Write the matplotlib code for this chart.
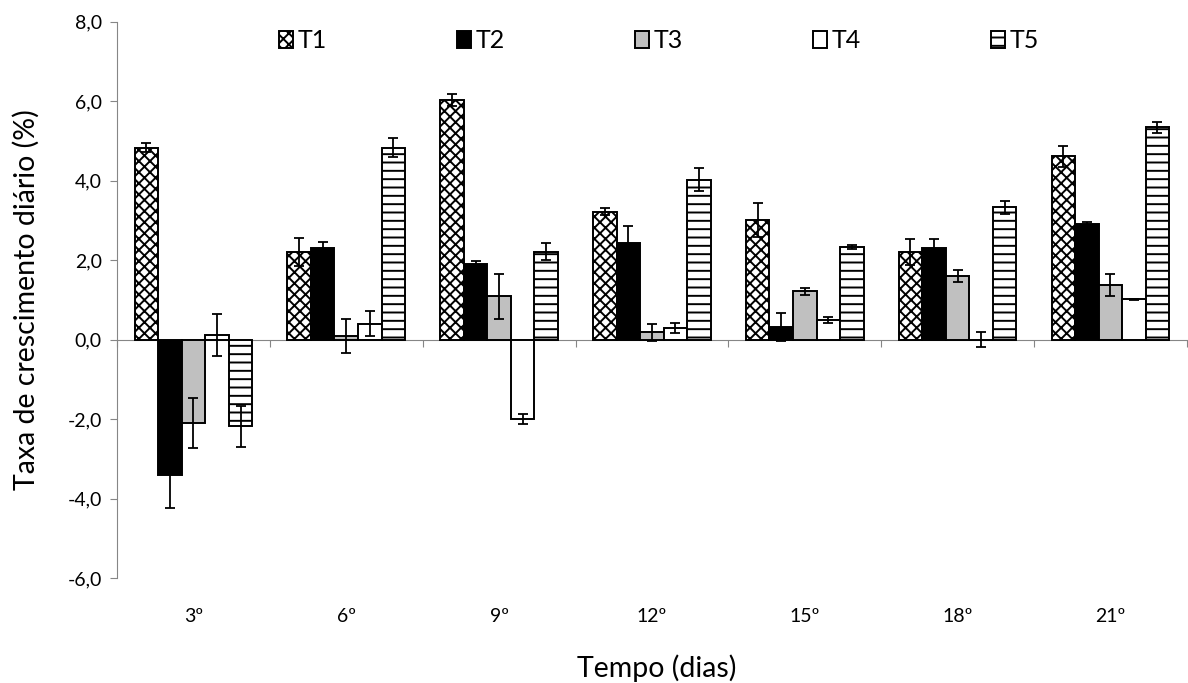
import numpy as np
import matplotlib
matplotlib.use('Agg')
import matplotlib.pyplot as plt
from matplotlib.ticker import FuncFormatter

plt.rcParams['font.family'] = ['Lato', 'DejaVu Sans']
plt.rcParams['hatch.linewidth'] = 1.4
plt.rcParams['hatch.color'] = 'black'

# Data
dias = ['3º', '6º', '9º', '12º', '15º', '18º', '21º']
tratamentos = ['T1', 'T2', 'T3', 'T4', 'T5']

t1 = [4.83, 2.21, 6.03, 3.22, 3.02, 2.21, 4.61]
t2 = [-3.40, 2.30, 1.91, 2.42, 0.32, 2.30, 2.90]
t3 = [-2.10, 0.10, 1.09, 0.18, 1.22, 1.60, 1.38]
t4 = [0.11, 0.40, -2.00, 0.30, 0.49, 0.00, 1.01]
t5 = [-2.18, 4.83, 2.21, 4.02, 2.33, 3.33, 5.34]

e1 = [0.12, 0.35, 0.14, 0.08, 0.43, 0.33, 0.26]
e2 = [0.85, 0.16, 0.08, 0.43, 0.36, 0.24, 0.07]
e3 = [0.62, 0.43, 0.56, 0.22, 0.09, 0.14, 0.27]
e4 = [0.53, 0.32, 0.12, 0.13, 0.08, 0.18, 0.02]
e5 = [0.52, 0.24, 0.21, 0.29, 0.05, 0.17, 0.13]

valores = [t1, t2, t3, t4, t5]
erros = [e1, e2, e3, e4, e5]
cores = ['white', 'black', '#c0c0c0', 'white', 'white']
hatches = ['xxx', None, None, None, '--']

fig = plt.figure(figsize=(11.88, 6.83), dpi=100)
ax = fig.add_axes([0.0985, 0.1537, 0.9005, 0.8145])

x = np.arange(len(dias))
w = 0.154
for i in range(5):
    pos = x + (i - 2) * w
    ax.bar(pos, valores[i], w, color=cores[i], edgecolor='black',
           linewidth=1.4, hatch=hatches[i], label=tratamentos[i], zorder=2)
    ax.errorbar(pos, valores[i], yerr=erros[i], fmt='none', ecolor='black',
                elinewidth=1.3, capsize=3.6, capthick=1.3, zorder=3)

ax.set_xlim(-0.5, len(dias) - 0.5)
ax.set_ylim(-6, 8)
ax.set_yticks(np.arange(-6, 9, 2))
ax.yaxis.set_major_formatter(FuncFormatter(lambda v, p: ('%.1f' % v).replace('.', ',')))

gray = '#868686'
for s in ['top', 'right']:
    ax.spines[s].set_visible(False)
ax.spines['left'].set_color(gray)
ax.spines['bottom'].set_position(('data', 0))
ax.spines['bottom'].set_color(gray)
ax.spines['bottom'].set_zorder(1)

ax.set_xticks(np.arange(-0.5, len(dias), 1))
ax.set_xticklabels([])
ax.tick_params(axis='x', direction='out', length=5, color=gray)
ax.tick_params(axis='y', direction='out', length=5, color=gray, labelsize=14, pad=6)

# category labels sit below the plot area (Excel "low" labels)
for xi, d in zip(x, dias):
    ax.text(xi, -6.97, d, ha='center', va='center', fontsize=14)

fig.text(0.022, 0.562, 'Taxa de crescimento diário (%)', rotation=90,
         ha='center', va='center', fontsize=20.5)
fig.text(0.553, 0.022, 'Tempo (dias)', ha='center', va='center', fontsize=20.5)

fig.legend(loc='center', bbox_to_anchor=(0.555, 0.94), ncol=5, frameon=False,
           fontsize=18, handlelength=0.55, handleheight=0.7, handletextpad=0.2,
           columnspacing=5.2)

fig.savefig('out.png', dpi=100)
